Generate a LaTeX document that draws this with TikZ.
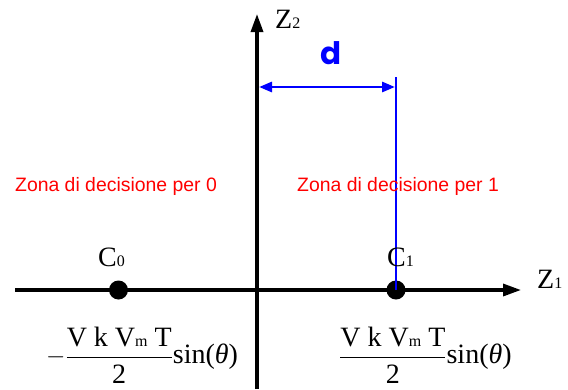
\documentclass[tikz,border=0pt]{standalone}
\usepackage{fontspec}
\setmainfont{Liberation Serif}
\newfontfamily\arialf{Liberation Sans}
\newfontfamily\dfont{Poppins}
\usetikzlibrary{arrows.meta}
\newcommand{\smallidx}[1]{{\fontsize{16}{16}\selectfont #1}}
\begin{document}
\begin{tikzpicture}[x=1pt,y=-1pt,
  axis/.style={line width=3.3pt,-{Triangle[length=18pt,width=12pt]}},
  blueline/.style={draw=blue,line width=2.8pt},
  redtext/.style={text=red,font=\arialf\fontsize{19.4}{19.4}\selectfont,inner sep=0pt,anchor=base},
  lbl/.style={font=\fontsize{28}{28}\selectfont,inner sep=0pt,anchor=base west},
  frm/.style={font=\fontsize{28}{28}\selectfont,inner sep=0pt,anchor=base west},
  dotst/.style={circle,fill=black,minimum size=19pt,inner sep=0pt}]
\useasboundingbox (0,0) rectangle (568,389);
% axes
\coordinate (hL) at (15,290);
\coordinate (hR) at (521,290);
\coordinate (vB) at (257,389);
\coordinate (vT) at (257,14);
\draw[axis] (hL) -- (hR);
\draw[axis] (vB) -- (vT);
% points
\node[dotst] (c0) at (118.5,290) {};
\node[dotst] (c1) at (396,290) {};
% blue lines
\coordinate (bT) at (396,77);
\coordinate (aL) at (259,87);
\coordinate (aR) at (395,87);
\draw[blueline] (bT) -- (c1.center);
\draw[blueline,{Triangle[length=13pt,width=10pt]}-{Triangle[length=13pt,width=10pt]}] (aL) -- (aR);
\node[text=blue,font=\dfont\bfseries\fontsize{31}{31}\selectfont,inner sep=0pt] (d) at (331,53) {d};
% labels
\node[lbl] (z2) at (275,28) {Z\smallidx{2}};
\node[lbl] (z1) at (537,288) {Z\smallidx{1}};
\node[lbl] (c0l) at (98,266) {C\smallidx{0}};
\node[lbl] (c1l) at (387,266) {C\smallidx{1}};
% regions
\node[redtext] (r0) at (116,191) {Zona di decisione per 0};
\node[redtext] (r1) at (398,191) {Zona di decisione per 1};
% formulas
\node[frm] (f0) at (46,363) {$\displaystyle-\frac{\mbox{V k V\smallidx{m} T}}{\mbox{\raisebox{-3pt}{2}}}\mbox{sin(\textit{θ})}$};
\node[frm] (f1) at (339,363) {$\displaystyle\frac{\mbox{V k V\smallidx{m} T}}{\mbox{\raisebox{-3pt}{2}}}\mbox{sin(\textit{θ})}$};
\end{tikzpicture}
\end{document}
